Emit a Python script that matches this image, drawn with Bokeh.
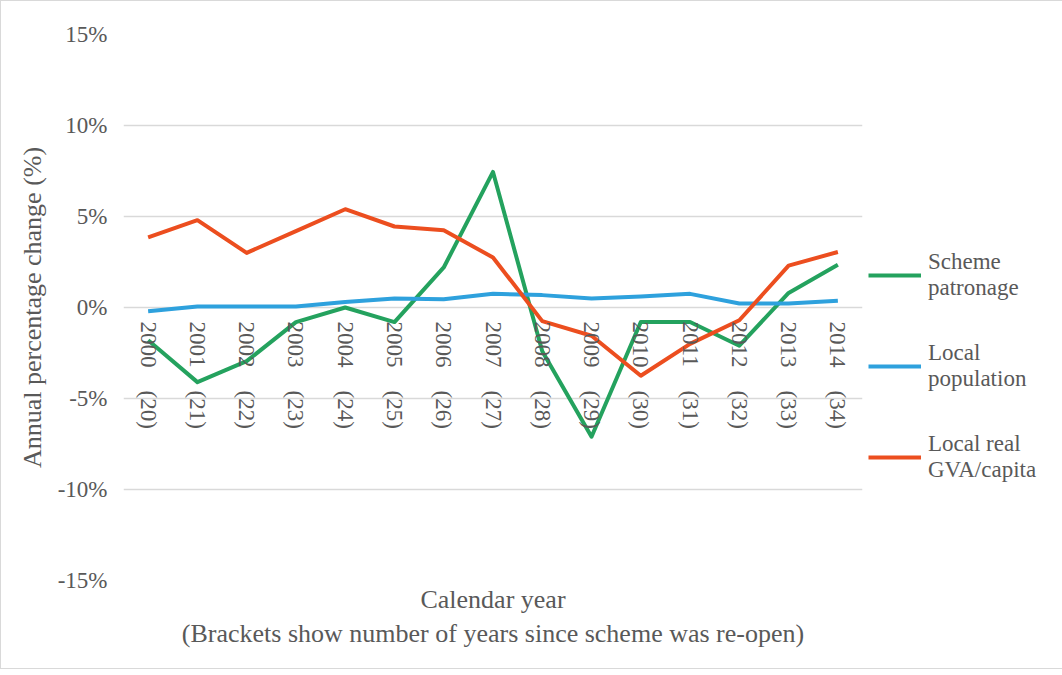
import math
from bokeh.plotting import figure
from bokeh.models import (FactorRange, Range1d, PrintfTickFormatter, FixedTicker,
                          Legend, LegendItem, Title)
from bokeh.core.properties import value
from bokeh.embed import file_html
from bokeh.resources import INLINE

# ---- data ----
years = ["2000", "2001", "2002", "2003", "2004", "2005", "2006", "2007",
         "2008", "2009", "2010", "2011", "2012", "2013", "2014"]
since_open = ["(20)", "(21)", "(22)", "(23)", "(24)", "(25)", "(26)", "(27)",
              "(28)", "(29)", "(30)", "(31)", "(32)", "(33)", "(34)"]
scheme_patronage = [-1.8, -4.1, -2.95, -0.8, 0.0, -0.8, 2.2, 7.45,
                    -2.4, -7.1, -0.8, -0.8, -2.1, 0.8, 2.35]
local_population = [-0.2, 0.05, 0.05, 0.05, 0.3, 0.5, 0.45, 0.75,
                     0.68, 0.5, 0.6, 0.75, 0.22, 0.22, 0.37]
local_gva = [3.85, 4.8, 3.0, 4.2, 5.4, 4.45, 4.25, 2.75,
             -0.75, -1.55, -3.75, -2.0, -0.7, 2.3, 3.05]
y_ticks = [-15, -10, -5, 0, 5, 10, 15]

FONT = "Liberation Serif"
GREY = "#595959"
GREEN = "#24a25e"
BLUE = "#2ea1dd"
RED = "#ec4e1f"

p = figure(frame_width=739, frame_height=546, output_backend="svg",
           toolbar_location=None,
           x_range=FactorRange(factors=years, range_padding=0),
           y_range=Range1d(-15, 15), x_axis_location=None,
           min_border_left=122, min_border_right=190, min_border_top=33,
           min_border_bottom=88)
p.styles = {"border-left": "1px solid #d9d9d9", "border-top": "1px solid #d9d9d9",
            "border-bottom": "1px solid #d9d9d9"}
p.outline_line_color = None
p.background_fill_color = "white"
for g in p.xgrid:
    g.visible = False

# y axis
yax = p.yaxis[0]
yax.ticker = FixedTicker(ticks=y_ticks)
yax.formatter = PrintfTickFormatter(format="%d%%")
yax.axis_line_color = None
yax.major_tick_line_color = None
yax.minor_tick_line_color = None
yax.major_label_standoff = 10
yax.major_label_text_font = FONT
yax.major_label_text_font_size = "23px"
yax.major_label_text_color = GREY
yax.axis_label = "Annual percentage change (%)"
yax.axis_label_text_font = FONT
yax.axis_label_text_font_size = "26px"
yax.axis_label_text_font_style = "normal"
yax.axis_label_text_color = GREY
yax.axis_label_standoff = 8

p.ygrid.grid_line_color = "#d9d9d9"
p.ygrid.grid_line_width = 1.5
p.ygrid.ticker = FixedTicker(ticks=y_ticks)

# series
r1 = p.line(years, scheme_patronage, line_color=GREEN, line_width=4, line_join="round")
r2 = p.line(years, local_population, line_color=BLUE, line_width=4, line_join="round")
r3 = p.line(years, local_gva, line_color=RED, line_width=4, line_join="round")

# category labels at the zero line
p.text(x=years, y=0, text=years, angle=-math.pi / 2, text_align="left",
       text_baseline="middle", y_offset=14, text_font=value(FONT),
       text_font_size="23px", text_color=GREY)
p.text(x=years, y=0, text=since_open, angle=-math.pi / 2, text_align="left",
       text_baseline="middle", y_offset=83, text_font=value(FONT),
       text_font_size="23px", text_color=GREY)

# x axis titles
t1 = Title(text="Calendar year", align="center", text_font=FONT,
           text_font_size="26px", text_font_style="normal", text_color=GREY,
           standoff=4)
t2 = Title(text="(Brackets show number of years since scheme was re-open)",
           align="center", text_font=FONT, text_font_size="26px",
           text_font_style="normal", text_color=GREY, standoff=2)
p.add_layout(t1, "below")
p.add_layout(t2, "below")

legend = Legend(items=[LegendItem(label="Scheme\npatronage", renderers=[r1]),
                       LegendItem(label="Local\npopulation", renderers=[r2]),
                       LegendItem(label="Local real\nGVA/capita", renderers=[r3])],
                location="top_left", padding=6, margin=6, spacing=39,
                title=" ", title_text_font_size="10px", title_standoff=198,
                glyph_width=53, glyph_height=30, label_standoff=7,
                border_line_color=None, background_fill_alpha=0,
                label_text_font=FONT, label_text_font_size="23px",
                label_text_color=GREY)
p.add_layout(legend, "right")

open("out.html", "w").write(file_html(p, INLINE))
